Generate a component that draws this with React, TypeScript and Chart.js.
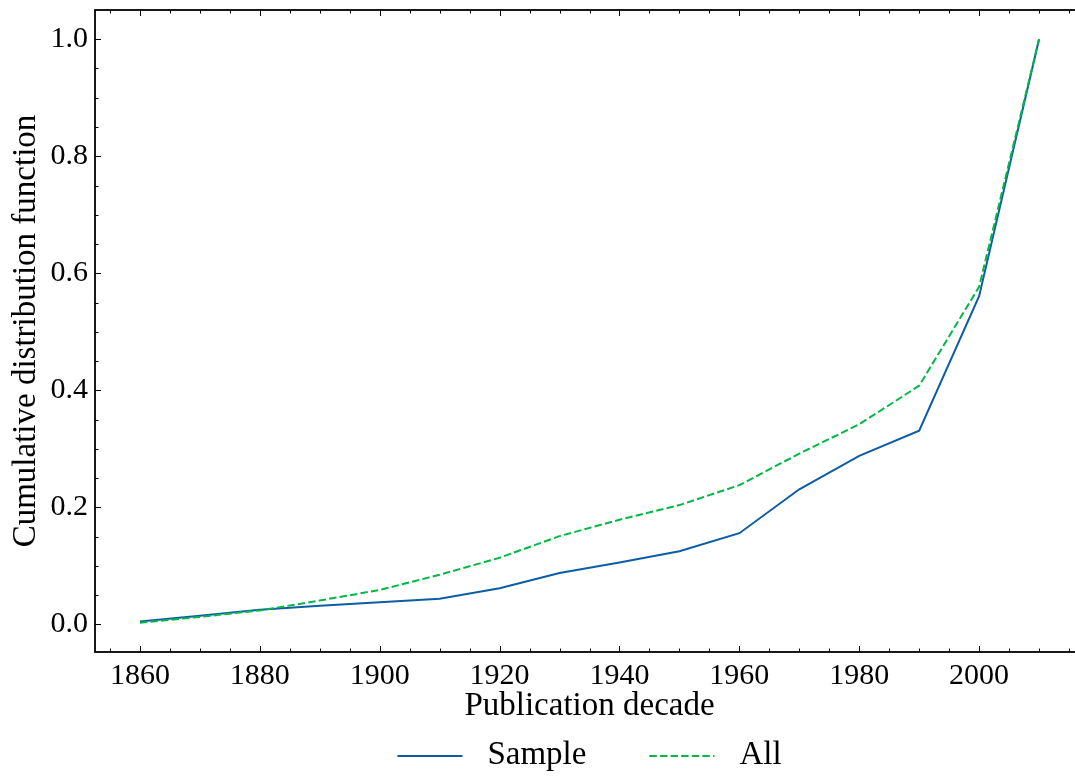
import React, { useEffect, useRef } from "react";
import { Chart, registerables } from "chart.js";

Chart.register(...registerables);

// Publication decades and cumulative shares
const decades = [1860, 1870, 1880, 1890, 1900, 1910, 1920, 1930, 1940, 1950, 1960, 1970, 1980, 1990, 2000, 2010];
const sampleCdf = [0.005, 0.015, 0.025, 0.032, 0.038, 0.044, 0.062, 0.088, 0.106, 0.125, 0.156, 0.231, 0.288, 0.331, 0.561, 1.0];
const allCdf = [0.003, 0.013, 0.024, 0.041, 0.059, 0.085, 0.114, 0.151, 0.179, 0.204, 0.238, 0.292, 0.342, 0.408, 0.577, 1.0];

const seriesNames = ["Sample", "All"];
const seriesColors = ["#0C5DA5", "#00B945"];

const xTickValues = [1860, 1880, 1900, 1920, 1940, 1960, 1980, 2000];
const yTickValues = [0, 0.2, 0.4, 0.6, 0.8, 1.0];

const xTitle = "Publication decade";
const yTitle = "Cumulative distribution function";

const SERIF = "'Liberation Serif', 'Times New Roman', serif";

// Inward major/minor ticks and the axes frame, drawn on top of the lines
const frameAndTicks = {
  id: "frameAndTicks",
  afterDraw(chart: any) {
    const { ctx, chartArea } = chart;
    const { left, right, top, bottom } = chartArea;
    const xs = chart.scales.x;
    const ys = chart.scales.y;
    ctx.save();
    ctx.strokeStyle = "#000";
    ctx.lineWidth = 1;
    const majorLen = 6;
    const minorLen = 3.5;

    const vTick = (px: number, len: number) => {
      ctx.beginPath();
      ctx.moveTo(px, bottom);
      ctx.lineTo(px, bottom - len);
      ctx.moveTo(px, top);
      ctx.lineTo(px, top + len);
      ctx.stroke();
    };
    const hTick = (py: number, len: number) => {
      ctx.beginPath();
      ctx.moveTo(left, py);
      ctx.lineTo(left + len, py);
      ctx.moveTo(right, py);
      ctx.lineTo(right - len, py);
      ctx.stroke();
    };

    for (let v = Math.ceil(xs.min / 5) * 5; v <= xs.max; v += 5) {
      const px = Math.round(xs.getPixelForValue(v)) + 0.5;
      vTick(px, v % 20 === 0 ? majorLen : minorLen);
    }
    for (let i = Math.ceil(ys.min / 0.05); i * 0.05 <= ys.max + 1e-9; i++) {
      const py = Math.round(ys.getPixelForValue(i * 0.05)) + 0.5;
      hTick(py, i % 4 === 0 ? majorLen : minorLen);
    }

    ctx.lineWidth = 1.8;
    ctx.strokeRect(left, top, right - left, bottom - top);
    ctx.restore();
  },
};

// Legend row under the x-axis title
const bottomLegend = {
  id: "bottomLegend",
  afterDraw(chart: any) {
    const { ctx, chartArea } = chart;
    const handle = 65;
    const gap = 25;
    const itemGap = 63;
    const lineY = 756;
    ctx.save();
    ctx.font = `33px ${SERIF}`;
    const items = chart.data.datasets.map((ds: any) => ({
      ds,
      w: ctx.measureText(ds.label).width,
    }));
    const total =
      items.reduce((s: number, it: any) => s + handle + gap + it.w, 0) + itemGap * (items.length - 1);
    let cx = (chartArea.left + chartArea.right) / 2 - total / 2;
    for (const it of items) {
      ctx.strokeStyle = it.ds.borderColor;
      ctx.lineWidth = it.ds.borderWidth;
      ctx.setLineDash(it.ds.borderDash || []);
      ctx.beginPath();
      ctx.moveTo(cx, lineY);
      ctx.lineTo(cx + handle, lineY);
      ctx.stroke();
      ctx.setLineDash([]);
      ctx.fillStyle = "#000";
      ctx.textBaseline = "middle";
      ctx.textAlign = "left";
      ctx.fillText(it.ds.label, cx + handle + gap, lineY - 1);
      cx += handle + gap + it.w + itemGap;
    }
    ctx.restore();
  },
};

export default function App() {
  const canvasRef = useRef<HTMLCanvasElement | null>(null);

  useEffect(() => {
    if (!canvasRef.current) return;
    const chart = new Chart(canvasRef.current, {
      type: "line",
      data: {
        datasets: [
          {
            label: seriesNames[0],
            data: decades.map((d, i) => ({ x: d, y: sampleCdf[i] })),
            borderColor: seriesColors[0],
            backgroundColor: seriesColors[0],
            borderWidth: 2,
            pointRadius: 0,
            tension: 0,
            order: 1,
          },
          {
            label: seriesNames[1],
            data: decades.map((d, i) => ({ x: d, y: allCdf[i] })),
            borderColor: seriesColors[1],
            backgroundColor: seriesColors[1],
            borderWidth: 2,
            borderDash: [7.4, 3.2],
            pointRadius: 0,
            tension: 0,
            order: 0,
          },
        ],
      },
      options: {
        animation: false,
        responsive: false,
        devicePixelRatio: 1,
        layout: { padding: { top: 10, right: 1, left: 0, bottom: 0 } },
        plugins: {
          legend: { display: false },
          tooltip: { enabled: false },
        },
        scales: {
          x: {
            type: "linear",
            min: 1852.5,
            max: 2017.5,
            grid: { display: false, drawTicks: false },
            border: { display: false },
            afterBuildTicks: (scale: any) => {
              scale.ticks = xTickValues.map((v) => ({ value: v }));
            },
            afterFit: (scale: any) => {
              scale.height = 124;
              scale.paddingLeft = 0;
              scale.paddingRight = 0;
            },
            ticks: {
              color: "#000",
              font: { family: SERIF, size: 30 },
              padding: 6,
              maxRotation: 0,
              autoSkip: false,
              callback: (v: any) => String(v),
            },
            title: {
              display: true,
              text: xTitle,
              color: "#000",
              font: { family: SERIF, size: 33 },
              padding: { top: 0, bottom: 50 },
            },
          },
          y: {
            type: "linear",
            min: -0.047,
            max: 1.0499,
            grid: { display: false, drawTicks: false },
            border: { display: false },
            afterBuildTicks: (scale: any) => {
              scale.ticks = yTickValues.map((v) => ({ value: v }));
            },
            afterFit: (scale: any) => {
              scale.width = 95;
              scale.paddingTop = 0;
              scale.paddingBottom = 0;
            },
            ticks: {
              color: "#000",
              font: { family: SERIF, size: 30 },
              padding: 7,
              autoSkip: false,
              callback: (v: any) => Number(v).toFixed(1),
            },
            title: {
              display: true,
              text: yTitle,
              color: "#000",
              font: { family: SERIF, size: 33 },
              padding: { top: 7, bottom: 0 },
            },
          },
        },
      },
      plugins: [frameAndTicks, bottomLegend],
    });
    return () => chart.destroy();
  }, []);

  return (
    <div
      style={{
        position: "fixed",
        left: 0,
        top: 0,
        width: 1075,
        height: 776,
        overflow: "hidden",
        background: "#fff",
      }}
    >
      <canvas ref={canvasRef} width={1085} height={776} style={{ display: "block", width: 1085, height: 776 }} />
    </div>
  );
}
